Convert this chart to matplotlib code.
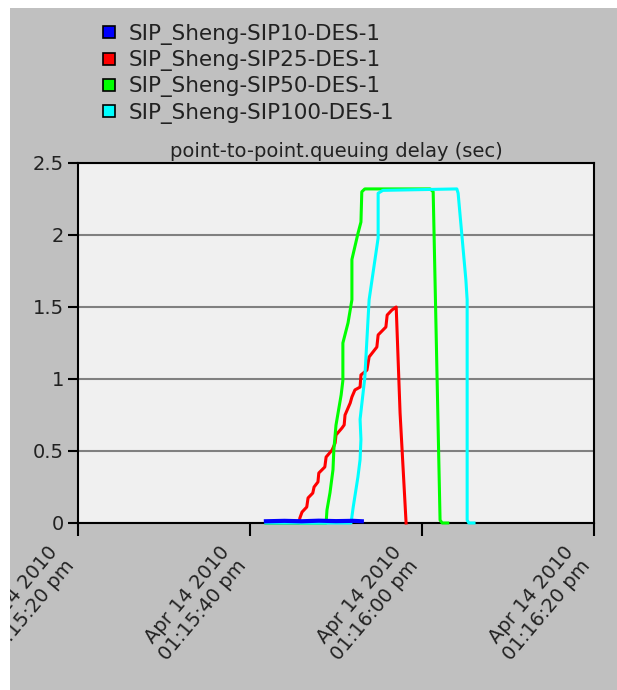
import matplotlib
matplotlib.use("Agg")
import matplotlib.pyplot as plt
from matplotlib.lines import Line2D
from matplotlib.patches import Rectangle
from matplotlib.transforms import Bbox

# seconds after 01:15:00 pm, values in sec
sip10_t = [41.85, 44.0, 46.0, 48.0, 50.0, 52.0, 53.0]
sip10_v = [0.012, 0.015, 0.012, 0.016, 0.013, 0.015, 0.012]

sip25_t = [41.9, 45.7, 45.8, 46.05, 46.6, 46.75, 47.3, 47.45, 47.9, 48.0, 48.7,
           48.85, 49.55, 49.9, 50.0, 50.7, 50.95, 51.05, 51.65, 51.85, 52.2,
           52.8, 52.9, 53.6, 53.85, 54.75, 54.9, 55.8, 55.95, 56.5, 57.0,
           57.45, 58.15]
sip25_v = [0, 0, 0.035, 0.076, 0.111, 0.174, 0.208, 0.25, 0.285, 0.347, 0.389,
           0.458, 0.507, 0.556, 0.611, 0.66, 0.681, 0.75, 0.833, 0.875, 0.924,
           0.944, 1.028, 1.062, 1.153, 1.222, 1.306, 1.361, 1.444, 1.479, 1.5,
           0.764, 0]

sip50_t = [41.85, 48.85, 48.95, 49.3, 49.65, 49.75, 50.0, 50.6, 50.8, 50.8,
           51.4, 51.85, 51.85, 52.55, 52.9, 53.0, 53.35, 60.95, 61.3, 62.1,
           62.35, 63.0]
sip50_v = [0, 0, 0.09, 0.21, 0.37, 0.51, 0.68, 0.89, 0.99, 1.25, 1.39, 1.55,
           1.83, 2.01, 2.09, 2.3, 2.32, 2.32, 2.3, 0.02, 0, 0]

sip100_t = [41.85, 51.75, 52.0, 52.55, 52.8, 52.9, 52.8, 53.35, 53.85, 54.9,
            54.9, 55.45, 64.05, 64.2, 65.1, 65.25, 65.25, 65.45, 66.05]
sip100_v = [0, 0, 0.11, 0.32, 0.44, 0.58, 0.72, 1.01, 1.55, 1.98, 2.29, 2.31,
            2.32, 2.29, 1.69, 1.55, 0.02, 0, 0]

labels = ["SIP_Sheng-SIP10-DES-1", "SIP_Sheng-SIP25-DES-1",
          "SIP_Sheng-SIP50-DES-1", "SIP_Sheng-SIP100-DES-1"]
colors = ["#0000ff", "#ff0000", "#00ff00", "#00ffff"]

x_ticks = [20, 40, 60, 80]
x_ticklabels = ["Apr 14 2010\n01:15:20 pm", "Apr 14 2010\n01:15:40 pm",
                "Apr 14 2010\n01:16:00 pm", "Apr 14 2010\n01:16:20 pm"]
y_ticks = [0, 0.5, 1, 1.5, 2, 2.5]
y_ticklabels = ["0", "0.5", "1", "1.5", "2", "2.5"]

fig = plt.figure(figsize=(6.17, 6.9), dpi=100, facecolor="white")
panel = Rectangle((10 / 617, 0), 1 - 10 / 617, 1 - 8 / 690,
                  transform=fig.transFigure, facecolor="#c0c0c0",
                  edgecolor="none", zorder=-10)
fig.patches.append(panel)

ax = fig.add_axes([78 / 617, 1 - 523 / 690, 516 / 617, 360 / 690])
ax.set_facecolor("#f0f0f0")

series = [(sip25_t, sip25_v), (sip50_t, sip50_v), (sip100_t, sip100_v)]
for (t, v), c in zip(series, colors[1:]):
    ax.plot(t, v, color=c, lw=2.2, clip_on=False, zorder=3)
ax.plot(sip10_t, sip10_v, color=colors[0], lw=3, clip_on=False, zorder=4)

ax.set_xlim(20, 80)
ax.set_ylim(0, 2.5)
ax.set_xticks(x_ticks)
ax.set_xticklabels(x_ticklabels, rotation=50, ha="right", va="top",
                   multialignment="right", fontsize=14, color="#222222")
ax.set_yticks(y_ticks)
ax.set_yticklabels(y_ticklabels, fontsize=14, color="#222222")
ax.tick_params(axis="x", length=9, width=1.5, pad=5)
ax.tick_params(axis="y", length=7, width=1.5, pad=3)
ax.grid(axis="y", color="#808080", lw=1.5)
ax.set_axisbelow(True)
for s in ax.spines.values():
    s.set_color("black")
    s.set_linewidth(1.5)

ax.set_title("point-to-point.queuing delay (sec)", fontsize=14,
             color="#222222", pad=4)

# first label is cut at the panel edge
clip = Bbox.from_extents(10, 0, 617, 682)
ax.get_xticklabels()[0].set_clip_box(clip)
ax.get_xticklabels()[0].set_clip_on(True)

handles = [Line2D([], [], marker="s", ls="none", markersize=8.6,
                  markerfacecolor=c, markeredgecolor="black",
                  markeredgewidth=1.2) for c in colors]
fig.legend(handles, labels, loc="upper left",
           bbox_to_anchor=(100 / 617, 1 - 24 / 690), frameon=False,
           fontsize=15.5, handlelength=0.8, handletextpad=0.53,
           labelspacing=0.24, borderpad=0, borderaxespad=0,
           labelcolor="#222222")

fig.savefig("out.png", dpi=100, facecolor="white")
